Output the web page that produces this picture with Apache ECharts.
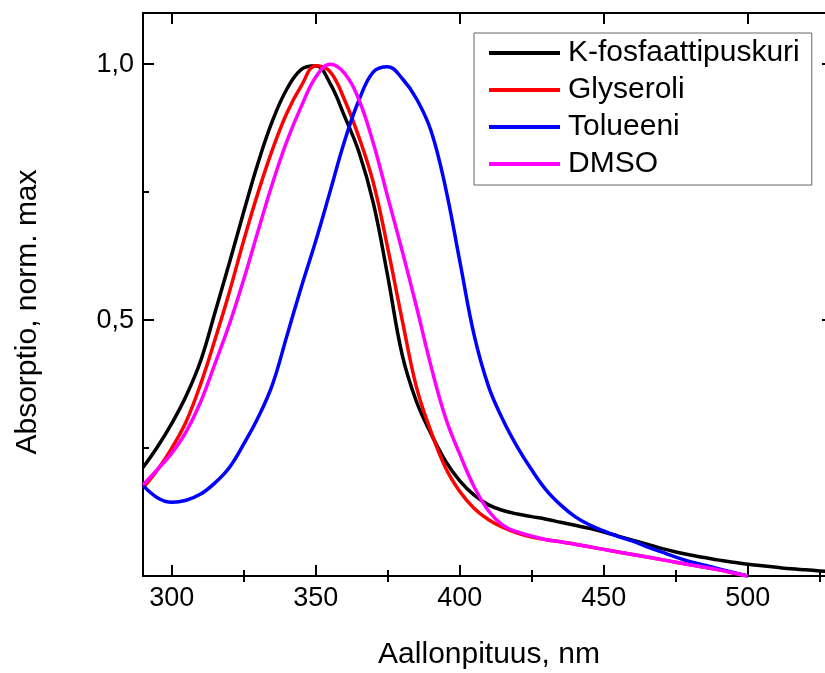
<!DOCTYPE html>
<html>
<head>
<meta charset="utf-8">
<script src="https://cdn.jsdelivr.net/npm/echarts@6/dist/echarts.min.js"></script>
<style>
html,body{margin:0;padding:0;background:#fff;}
#chart{width:825px;height:673px;}
</style>
</head>
<body>
<div id="chart"></div>
<script>
// Wavelengths (nm)
const wavelengths = [290,295,300,305,310,315,320,325,330,335,340,345,350,355,360,365,370,375,380,385,390,395,400,405,410,415,420,425,430,435,440,445,450,455,460,465,470,475,480,485,490,495,500,505,510,515,520,525,530];

const seriesNames = ['K-fosfaattipuskuri','Glyseroli','Tolueeni','DMSO'];

const kFosfaatti = [0.212,0.252,0.298,0.352,0.420,0.515,0.612,0.712,0.808,0.890,0.952,0.990,
  0.997,0.962,0.898,0.828,0.728,0.585,0.432,0.340,0.278,0.225,0.186,
  0.158,0.139,0.128,0.121,0.116,0.111,0.105,0.099,0.093,0.086,
  0.078,0.070,0.062,0.054,0.047,0.041,0.036,0.031,0.027,0.023,
  0.020,0.017,0.014,0.012,0.010,0.008];

const glyseroli = [0.172,0.207,0.250,0.302,0.375,0.462,0.555,0.656,0.750,0.834,0.905,0.958,
  0.997,0.985,0.930,0.857,0.768,0.640,0.500,0.368,0.282,0.212,0.165,
  0.132,0.110,0.095,0.084,0.076,0.071,0.067,0.062,0.057,0.052,
  0.047,0.042,0.037,0.032,0.027,0.022,0.017,0.012,0.006,0.000];

const tolueeni = [0.177,0.153,0.144,0.148,0.160,0.182,0.212,0.258,0.310,0.375,0.470,0.565,
  0.655,0.752,0.850,0.930,0.985,0.995,0.972,0.932,0.870,0.760,0.615,
  0.470,0.370,0.305,0.252,0.207,0.168,0.139,0.116,0.100,0.088,
  0.077,0.068,0.057,0.047,0.037,0.028,0.021,0.014,0.007,0.000];

const dmso = [0.178,0.208,0.240,0.282,0.340,0.415,0.492,0.580,0.675,0.768,0.850,0.918,
  0.975,1.000,0.982,0.930,0.845,0.740,0.635,0.525,0.410,0.310,0.238,
  0.174,0.127,0.099,0.086,0.078,0.071,0.067,0.062,0.057,0.052,
  0.047,0.042,0.037,0.032,0.027,0.022,0.017,0.012,0.006,0.000];

const xMajorTicks = [300,350,400,450,500];
const xMinorTicks = [325,375,425,475,525];
const yMajorTicks = [0.5,1.0];
const yMinorTicks = [0.25,0.75];

const colors = ['#000000','#ff0000','#0000ff','#ff00ff'];
const values = [kFosfaatti, glyseroli, tolueeni, dmso];

const FONT = '"Liberation Sans", Arial, sans-serif';
const X_MIN = 290, X_MAX = 526.8, Y_MIN = 0, Y_MAX = 1.1;

function pairs(vals){ return vals.map((v,i)=>[wavelengths[i], v]); }

const axisLine = {show:true, onZero:false, lineStyle:{color:'#000', width:2}};
function xAx(pos, ticks, len, showLine, labels){
  return {
    type:'value', position:pos, min:X_MIN, max:X_MAX,
    axisLine: showLine ? axisLine : {show:false},
    axisTick:{show:true, inside:true, length:len, customValues:ticks, lineStyle:{color:'#000', width:2}},
    axisLabel: labels ? {show:true, customValues:ticks, margin:9, color:'#000', fontSize:27, fontFamily:FONT} : {show:false},
    splitLine:{show:false}
  };
}
function yAx(pos, ticks, len, showLine, labels){
  return {
    type:'value', position:pos, min:Y_MIN, max:Y_MAX,
    axisLine: showLine ? axisLine : {show:false},
    axisTick:{show:true, inside:true, length:len, customValues:ticks, lineStyle:{color:'#000', width:2}},
    axisLabel: labels ? {show:true, customValues:ticks, margin:9, color:'#000', fontSize:27, fontFamily:FONT,
      formatter: v => v.toFixed(1).replace('.', ',')} : {show:false},
    splitLine:{show:false}
  };
}

const chart = echarts.init(document.getElementById('chart'), null, {renderer:'canvas'});
chart.setOption({
  animation:false,
  backgroundColor:'#fff',
  grid:{left:143, top:13, bottom:97, right:0, containLabel:false},
  xAxis:[
    xAx('bottom', xMajorTicks, 11, true, true),
    xAx('bottom', xMinorTicks, 6, false, false),
    xAx('top', xMajorTicks, 11, true, false),
    xAx('top', xMinorTicks, 6, false, false)
  ],
  yAxis:[
    yAx('left', yMajorTicks, 11, true, true),
    yAx('left', yMinorTicks, 6, false, false),
    yAx('right', yMajorTicks, 3, false, false)
  ],
  legend:{
    orient:'vertical', left:474, top:33,
    padding:[5,12,6,15],
    borderColor:'#666', borderWidth:1,
    itemWidth:71, itemHeight:4, itemGap:7,
    textStyle:{color:'#000', fontSize:30, fontFamily:FONT, lineHeight:30, padding:[0,0,0,3]},
    data: seriesNames.map(n=>({name:n, icon:'rect'})),
    itemStyle:{borderWidth:0}
  },
  graphic:[
    {type:'text', x:489, y:655, style:{text:'Aallonpituus, nm', font:'30px '+FONT, fill:'#000', align:'center', verticalAlign:'middle'}},
    {type:'text', rotation:Math.PI/2, x:28, y:312, style:{text:'Absorptio, norm. max', font:'30px '+FONT, fill:'#000', align:'center', verticalAlign:'middle'}}
  ],
  series: seriesNames.map((name,i)=>({
    name:name, type:'line', xAxisIndex:0, yAxisIndex:0,
    data:pairs(values[i]), smooth:0.4, symbol:'none',
    lineStyle:{color:colors[i], width:3.5}, itemStyle:{color:colors[i]},
    z: 2+i
  }))
});
</script>
</body>
</html>
